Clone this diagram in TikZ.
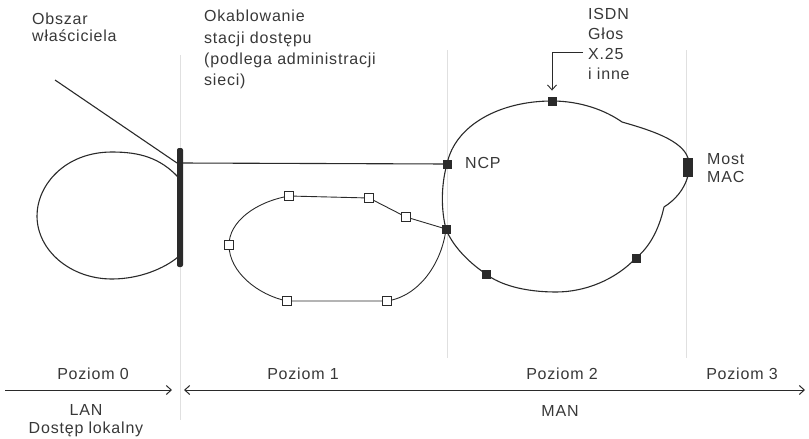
\documentclass[tikz,border=0pt]{standalone}
\usepackage{fontspec}
\setmainfont{Liberation Sans}[LetterSpace=5]
\usetikzlibrary{arrows.meta,calc}
\definecolor{ink}{HTML}{2A2A2A}
\definecolor{txt}{HTML}{383838}
\definecolor{guide}{HTML}{E0E0E0}
\begin{document}
\begin{tikzpicture}[x=1pt,y=1pt,
  guideline/.style={draw=guide,line width=0.9pt},
  wire/.style={draw=ink,line width=1.1pt},
  thinwire/.style={draw=ink,line width=0.9pt},
  axis/.style={draw=ink,line width=1pt},
  tip/.style={-{Straight Barb[length=5pt,width=9pt]}},
  hollowbox/.style={rectangle,draw=ink,fill=white,line width=0.9pt,minimum size=9pt,inner sep=0pt},
  blackbox/.style={rectangle,draw=ink,fill=ink,minimum size=8.5pt,inner sep=0pt},
  lbl/.style={text=txt,inner sep=0pt,align=left},
  lblsize/.style={font=\fontsize{16}{#1}\selectfont},
]
% y grows upwards; the page runs from y=0 (top) to y=-439 (bottom)
\useasboundingbox (0,0) rectangle (809,-439);

% level boundaries
\draw[guideline] (180,-55) -- (180,-420);
\draw[guideline] (447,-50) -- (447,-358);
\draw[guideline] (686,-50) -- (686,-358);

% positions of the stations
\coordinate (pNCP) at (447,-164);
\coordinate (pTop) at (552,-101);
\coordinate (pMost) at (688,-167);
\coordinate (pMostT) at (688,-158);
\coordinate (pMostB) at (688,-176);
\coordinate (pB1) at (636,-258);
\coordinate (pB2) at (486,-274);
\coordinate (pJ) at (446,-229);
\coordinate (k1) at (622,-122);
\coordinate (k2) at (664,-207);
\coordinate (bot) at (556,-292);
\coordinate (a1) at (289,-196);
\coordinate (a2) at (369,-198);
\coordinate (a3) at (406,-217);
\coordinate (a4) at (229,-245);
\coordinate (a5) at (287,-301);
\coordinate (a6) at (387,-301);

% access station cabling bar
\node[rectangle,fill=ink,minimum width=6pt,minimum height=119pt,inner sep=0pt,rounded corners=2pt] (bar) at (180,-207.5) {};
\coordinate (barDiag) at (177,-163);
\coordinate (barLine) at (180,-163);
\coordinate (lanIn) at (178,-177);
\coordinate (lanOut) at (178,-257);
\coordinate (diagEnd) at (55,-80);

% local loop (LAN)
\draw[wire] (lanIn) .. controls (160,-158) and (140,-152) .. (112,-152)
  .. controls (65,-152) and (37,-185) .. (37,-216)
  .. controls (37,-250) and (70,-279) .. (112,-279)
  .. controls (140,-279) and (165,-268) .. (lanOut);
\draw[wire] (diagEnd) -- (barDiag);

% link to the NCP
\draw[wire] (barLine) -- (pNCP);

% MAN ring
\draw[wire] (pNCP) .. controls (455,-125) and (500,-101) .. (pTop)
  .. controls (580,-101) and (605,-110) .. (k1)
  .. controls (650,-130) and (682,-140) .. (pMostT);
\draw[wire] (pMostB) .. controls (684,-190) and (675,-200) .. (k2)
  .. controls (660,-225) and (652,-245) .. (pB1)
  .. controls (615,-280) and (585,-292) .. (bot)
  .. controls (525,-292) and (500,-285) .. (pB2)
  .. controls (468,-262) and (452,-245) .. (pJ)
  .. controls (441,-210) and (441,-185) .. (pNCP);

% access ring (level 1)
\draw[thinwire] (pJ) -- (a3) -- (a2) -- (a1)
  .. controls (255,-202) and (229,-222) .. (a4)
  .. controls (229,-272) and (258,-295) .. (a5) -- (a6)
  .. controls (420,-296) and (442,-262) .. (pJ);

% station symbols
\node[blackbox] (ncp) at (pNCP) {};
\node[blackbox] (tp) at (pTop) {};
\node[rectangle,fill=ink,minimum width=10pt,minimum height=19pt,inner sep=0pt] (most) at (pMost) {};
\node[blackbox] (b1) at (pB1) {};
\node[blackbox] (b2) at (pB2) {};
\node[blackbox] (jn) at (pJ) {};
\foreach \n in {a1,a2,a3,a4,a5,a6} \node[hollowbox] (s\n) at (\n) {};

% services arrow
\coordinate (svc) at (583,-52);
\draw[thinwire,tip] (svc) -| ([yshift=6pt]tp.north);

% level axis
\coordinate (ax0) at (5,-390);
\coordinate (ax1) at (172,-390);
\coordinate (ax2) at (184,-390);
\coordinate (ax3) at (805,-390);
\draw[axis,tip] (ax0) -- (ax1);
\draw[axis,{Straight Barb[length=5pt,width=9pt]}-{Straight Barb[length=5pt,width=9pt]}] (ax2) -- (ax3);

% labels
\node[lbl,lblsize=17,anchor=north west] (owner) at (32,-13) {Obszar\\właściciela};
\node[lbl,lblsize=21.3,anchor=north west] (cabling) at (204,-10) {Okablowanie\\stacji dostępu\\(podlega administracji\\sieci)};
\node[lbl,lblsize=20,anchor=north west] (services) at (588,-8) {ISDN\\Głos\\X.25\\i inne};
\node[lbl,lblsize=18,anchor=base west] (ncplbl) at (465,-168) {NCP};
\node[lbl,lblsize=18,anchor=north west] (mostlbl) at (707,-153) {Most\\MAC};
\node[lbl,lblsize=18,anchor=base] (l0) at (93,-379) {Poziom 0};
\node[lbl,lblsize=18,anchor=base] (l1) at (303,-379) {Poziom 1};
\node[lbl,lblsize=18,anchor=base] (l2) at (562,-379) {Poziom 2};
\node[lbl,lblsize=18,anchor=base] (l3) at (742,-379) {Poziom 3};
\node[lbl,lblsize=18,align=center,anchor=north] (lan) at (86,-404) {LAN\\Dostęp lokalny};
\node[lbl,lblsize=18,anchor=base] (man) at (560,-416) {MAN};
\end{tikzpicture}
\end{document}
